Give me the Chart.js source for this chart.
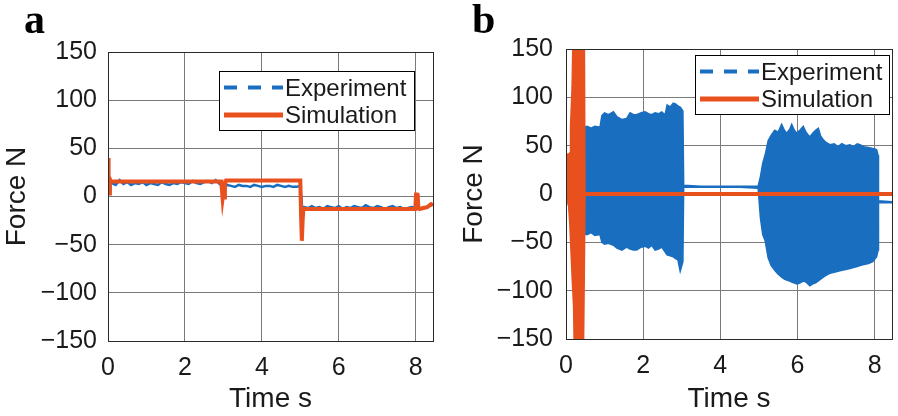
<!DOCTYPE html>
<html>
<head>
<meta charset="utf-8">
<script src="https://cdn.jsdelivr.net/npm/chart.js@4.4.1/dist/chart.umd.min.js"></script>
<style>
  body { margin: 0; background: #fff; width: 898px; height: 416px; overflow: hidden; position: relative; }
  canvas { position: absolute; top: 0; }
  .lab { position: absolute; top: -2px; font: bold 42px 'Liberation Serif', 'Times New Roman', serif; line-height: 1; color: #000; }
</style>
</head>
<body>
<canvas id="ca" width="449" height="416" style="left:0"></canvas>
<canvas id="cb" width="441" height="416" style="left:457px"></canvas>
<div class="lab" style="left:24px">a</div>
<div class="lab" style="left:472px">b</div>
<script>
// axis ticks + legend names
const xTicks = [0, 2, 4, 6, 8];
const yTicks = [-150, -100, -50, 0, 50, 100, 150];
const seriesNames = ['Experiment', 'Simulation'];

// ---- panel a ----
const timeA = [0, 0.02, 0.05, 0.1, 0.2, 0.3, 0.4, 0.5, 0.6, 0.7, 0.8, 0.9, 1.0, 1.1, 1.2, 1.3, 1.4, 1.5, 1.6, 1.7,
  1.8, 1.9, 2.0, 2.1, 2.2, 2.3, 2.4, 2.5, 2.6, 2.7, 2.8, 2.9, 2.96, 3.02,
  3.1, 3.2, 3.3, 3.4, 3.5, 3.6, 3.7, 3.8, 3.9, 4.0, 4.1, 4.2, 4.3, 4.4, 4.5, 4.6, 4.7, 4.8, 4.9, 5.0,
  5.05,
  5.1, 5.2, 5.3, 5.4, 5.5, 5.6, 5.7, 5.8, 5.9, 6.0, 6.1, 6.2, 6.3, 6.4, 6.5, 6.6, 6.7, 6.8, 6.9, 7.0,
  7.1, 7.2, 7.3, 7.4, 7.5, 7.6, 7.7, 7.8, 7.9, 8.0, 8.1, 8.2, 8.3, 8.4,
  8.45];
const expA = [6, 12, 13, 14, 12, 17, 13, 15, 12, 14, 13, 15, 12, 14, 13, 12, 15, 13, 12, 14,
  13, 15, 14, 13, 16, 14, 13, 15, 16, 14, 17, 13, 12, 11,
  12, 11, 10, 12, 11, 11, 10, 12, 11, 10, 11, 11, 10, 12, 11, 10, 11, 10, 10, 11,
  -12,
  -11, -12, -10, -12, -11, -13, -10, -11, -12, -10, -13, -11, -12, -10, -11, -12, -9, -11, -12, -10,
  -11, -13, -11, -10, -12, -11, -13, -12, -11, -12, -13, -12, -11, -9,
  -8];
const simTimeA = [0, 0.01, 0.02, 0.035, 0.05, 0.08, 1.0, 2.0, 2.94, 2.96, 2.98, 3.0, 3.02, 3.04, 3.07, 4.0, 5.0,
  5.02, 5.04, 5.06, 5.08, 5.12, 6.0, 7.0, 7.99, 8.01, 8.03, 8.05, 8.07, 8.1, 8.2, 8.3, 8.4, 8.45];
const simA = [4, 40, 22, 3, 18, 15.5, 15.5, 15.5, 15.5, 8, -2, 4, -1, 12, 16.5, 16.5, 16.5,
  -20, -46, -25, -13, -13, -13, -13, -13, 4, -6, 3, -12, -13, -12, -11, -8, -9];

// ---- panel b (dense oscillation -> upper / lower envelope) ----
const timeB = [0.02, 0.1, 0.2, 0.3, 0.44,   0.45, 0.55, 0.65, 0.75, 0.88,   0.93, 1.0, 1.1, 1.23, 1.32,
  1.45, 1.57, 1.66, 1.75, 1.83,   1.95, 2.05, 2.14, 2.22, 2.31,   2.4, 2.48, 2.57, 2.62, 2.7,
  2.78, 2.85, 2.9, 2.96, 3.03,   3.05, 3.5, 4.0, 4.5, 4.98,   5.04, 5.1, 5.16, 5.24, 5.32,
  5.41, 5.5, 5.59, 5.66, 5.72,   5.8, 5.85, 5.92, 5.98, 6.06,   6.15, 6.22, 6.32, 6.4, 6.47,
  6.54, 6.6, 6.67, 6.75, 6.84,   6.95, 7.05, 7.15, 7.25, 7.36,   7.45, 7.55, 7.62, 7.72, 7.84,
  7.95, 8.05, 8.09, 8.1, 8.45];
const expBHigh = [1, 0, 2, 0, 3,   69, 70, 68, 70, 69,   81, 84, 82, 85, 80,
  77, 78, 84, 82, 82,   84, 85, 83, 82, 84,   83, 85, 82, 92, 90,
  94, 93, 91, 90, 86,   9, 8, 8, 8, 8,   18, 32, 40, 55, 61,
  66, 64, 72, 66, 63,   67, 72, 66, 63, 66,   70, 64, 59, 63, 66,
  68, 60, 56, 53, 51,   52, 49, 52, 50, 51,   49, 52, 51, 49, 48,
  47, 46, 40, -7, -8];
const expBLow = [-3, -18, -22, -24, -22,   -41, -42, -40, -43, -42,   -50, -52, -51, -53, -56,
  -58, -55, -57, -58, -58,   -55, -54, -56, -53, -58,   -57, -55, -60, -63, -64,
  -65, -67, -68, -80, -70,   7, 7, 7, 7, 6,   -25, -42, -48, -66, -74,
  -79, -83, -86, -88, -89,   -90, -91, -92, -93, -92,   -90, -91, -95, -93, -92,
  -90, -88, -86, -84, -82,   -81, -80, -79, -78, -77,   -76, -75, -74, -73, -72,
  -70, -65, -58, -9, -9];
const simTimeB = [0, 0.02, 0.06, 0.1, 0.13, 0.15, 0.19, 0.23, 0.26, 0.35, 0.41, 0.44, 0.46, 8.45];
const simBHigh = [5, 38, 40, 40, 42, 70, 110, 200, 200, 200, 200, 200, 0, 0];
const simBLow = [0, -2, -6, -12, -30, -48, -85, -117, -200, -200, -200, -90, 0, 0];

const BLUE = '#1a6ec0';
const ORANGE = '#e8501e';
const GRID = '#7a7a7a';
const INK = '#1a1a1a';
const FONT = "'Liberation Sans', Arial, sans-serif";

function pts(xs, ys) {
  return xs.map((x, i) => ({ x: x, y: ys[i] }));
}

// black box around plot area (matlab "box on")
const frame = {
  id: 'frame',
  afterDatasetsDraw(chart) {
    const a = chart.chartArea, ctx = chart.ctx;
    ctx.save();
    ctx.strokeStyle = '#2a2a2a';
    ctx.lineWidth = 1;
    ctx.strokeRect(Math.round(a.left) + 0.5, Math.round(a.top) + 0.5, Math.round(a.right - a.left), Math.round(a.bottom - a.top));
    ctx.restore();
  }
};

// legend in a bordered box inside the plot
const boxLegend = {
  id: 'boxLegend',
  afterDraw(chart, args, o) {
    const ctx = chart.ctx, a = chart.chartArea;
    const x = Math.round(a.left + o.dx), y = Math.round(a.top + o.dy);
    ctx.save();
    ctx.fillStyle = '#fff';
    ctx.fillRect(x, y, o.w, o.h);
    ctx.strokeStyle = '#000';
    ctx.lineWidth = 1;
    ctx.strokeRect(x + 0.5, y + 0.5, o.w, o.h);
    const rows = [
      { text: seriesNames[0], color: BLUE, dash: [13, 11], lw: 4, ly: 16.5, ty: 18 },
      { text: seriesNames[1], color: ORANGE, dash: [], lw: 5, ly: 44, ty: 45 }
    ];
    rows.forEach(r => {
      ctx.beginPath();
      ctx.setLineDash(r.dash);
      ctx.strokeStyle = r.color;
      ctx.lineWidth = r.lw;
      ctx.moveTo(x + 5, y + r.ly);
      ctx.lineTo(x + 64, y + r.ly);
      ctx.stroke();
      ctx.setLineDash([]);
      ctx.fillStyle = INK;
      ctx.font = '24px ' + FONT;
      ctx.textBaseline = 'middle';
      ctx.textAlign = 'left';
      ctx.fillText(r.text, x + 66, y + r.ty);
    });
    ctx.restore();
  }
};

function makeChart(id, datasets, lay) {
  return new Chart(document.getElementById(id), {
    type: 'line',
    data: { datasets: datasets },
    plugins: [frame, boxLegend],
    options: {
      responsive: false,
      animation: false,
      devicePixelRatio: 1,
      layout: { padding: { top: lay.top, right: lay.right, left: 0, bottom: 0 } },
      elements: { point: { radius: 0 }, line: { tension: 0 } },
      plugins: {
        legend: { display: false },
        tooltip: { enabled: false },
        boxLegend: lay.legend
      },
      scales: {
        x: {
          type: 'linear', min: 0, max: 8.45,
          afterBuildTicks: s => { s.ticks = xTicks.map(v => ({ value: v })); },
          afterFit: s => { s.height = lay.xh; s.paddingLeft = 0; s.paddingRight = 0; },
          grid: { color: GRID, lineWidth: 1, drawTicks: false },
          border: { display: false },
          ticks: { padding: 12, color: INK, maxRotation: 0, autoSkip: false, font: { family: FONT, size: 25 } },
          title: { display: true, text: 'Time s', color: INK, padding: 0, font: { family: FONT, size: 28 } }
        },
        y: {
          type: 'linear', min: -150, max: 150,
          afterBuildTicks: s => { s.ticks = yTicks.map(v => ({ value: v })); },
          afterFit: s => { s.width = lay.yw; s.paddingTop = 0; s.paddingBottom = 0; },
          grid: { color: GRID, lineWidth: 1, drawTicks: false },
          border: { display: false },
          ticks: {
            padding: lay.ypad, color: INK, autoSkip: false, font: { family: FONT, size: 25 },
            callback: v => String(v).replace('-', '\u2212')
          },
          title: { display: true, text: 'Force N', color: INK, padding: 0, font: { family: FONT, size: 28 } }
        }
      }
    }
  });
}

// panel a
makeChart('ca', [
  { label: seriesNames[1], data: pts(simTimeA, simA), borderColor: ORANGE, borderWidth: 4, fill: false },
  { label: seriesNames[0], data: pts(timeA, expA), borderColor: BLUE, borderWidth: 2.5, fill: false }
], { top: 52, right: 16, xh: 75, yw: 108, ypad: 11, legend: { dx: 111, dy: 19, w: 195, h: 59 } });

// panel b
makeChart('cb', [
  { label: seriesNames[1], data: pts(simTimeB, simBHigh), borderColor: ORANGE, backgroundColor: ORANGE, borderWidth: 4, fill: '+1' },
  { label: seriesNames[1] + ' low', data: pts(simTimeB, simBLow), borderColor: ORANGE, borderWidth: 4, fill: false },
  { label: seriesNames[0], data: pts(timeB, expBHigh), borderColor: BLUE, backgroundColor: BLUE, borderWidth: 1.5, fill: '+1' },
  { label: seriesNames[0] + ' low', data: pts(timeB, expBLow), borderColor: BLUE, borderWidth: 1.5, fill: false }
], { top: 49, right: 6, xh: 77, yw: 109, ypad: 13, legend: { dx: 129, dy: 6, w: 194, h: 59 } });
</script>
</body>
</html>
